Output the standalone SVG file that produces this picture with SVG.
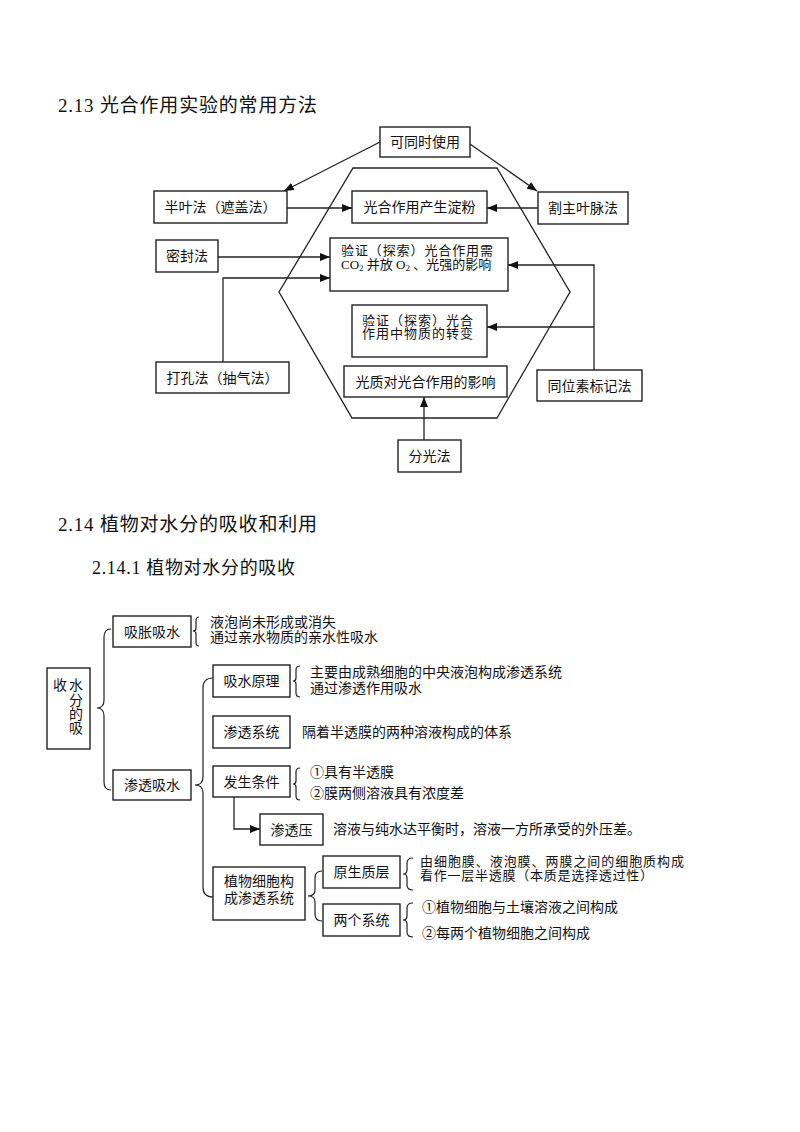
<svg xmlns="http://www.w3.org/2000/svg" width="800" height="1132" viewBox="0 0 800 1132">
<style>
  text { font-family: "Liberation Serif", "Noto Sans CJK SC", serif; fill: #111; }
  .t { font-size: 14px; }
  .s { font-size: 13px; }
  .c { text-anchor: middle; }
  .h1 { font-size: 19px; }
  .h2 { font-size: 18px; }
  .box { fill: #fff; stroke: #222; stroke-width: 1.4; }
  .ln { fill: none; stroke: #222; stroke-width: 1.3; }
  .br { fill: none; stroke: #222; stroke-width: 1.2; }
</style>
<defs>
  <marker id="ah" viewBox="0 0 10 8" refX="10" refY="4" markerWidth="10" markerHeight="8" markerUnits="userSpaceOnUse" orient="auto">
    <path d="M0,0 L10,4 L0,8 Z" fill="#111"/>
  </marker>
</defs>
<rect width="800" height="1132" fill="#fff"/>

<text class="h1" x="58" y="112" textLength="259" lengthAdjust="spacing">2.13 光合作用实验的常用方法</text>
<text class="h1" x="58" y="531" textLength="259" lengthAdjust="spacing">2.14 植物对水分的吸收和利用</text>
<text class="h2" x="92" y="574" textLength="203" lengthAdjust="spacing">2.14.1 植物对水分的吸收</text>

<!-- ===== Diagram 1 ===== -->
<g id="hexagon">
  <polygon class="ln" points="353,168 497,168 570,292 497,418 352,418 279,292"/>
</g>

<g id="connectors1">
  <line class="ln" x1="380" y1="142" x2="284" y2="191" marker-end="url(#ah)"/>
  <line class="ln" x1="470" y1="144" x2="537" y2="191" marker-end="url(#ah)"/>
  <line class="ln" x1="287" y1="208" x2="352" y2="208" marker-end="url(#ah)"/>
  <line class="ln" x1="538" y1="208" x2="487" y2="208" marker-end="url(#ah)"/>
  <line class="ln" x1="218" y1="257" x2="330" y2="257" marker-end="url(#ah)"/>
  <polyline class="ln" points="223,362 223,278 330,278" marker-end="url(#ah)"/>
  <polyline class="ln" points="594,370 594,265 508,265" marker-end="url(#ah)"/>
  <line class="ln" x1="594" y1="327" x2="487" y2="327" marker-end="url(#ah)"/>
  <line class="ln" x1="424" y1="440" x2="424" y2="397" marker-end="url(#ah)"/>
</g>

<g id="n-ketongshi">
  <rect class="box" x="380" y="127" width="90" height="30"/>
  <text class="t c" x="425" y="147">可同时使用</text>
</g>
<g id="n-banye">
  <rect class="box" x="154" y="191" width="133" height="32"/>
  <text class="t c" x="220.5" y="212">半叶法（遮盖法）</text>
</g>
<g id="n-dianfen">
  <rect class="box" x="352" y="191" width="135" height="32"/>
  <text class="t c" x="419.5" y="212">光合作用产生淀粉</text>
</g>
<g id="n-gezhu">
  <rect class="box" x="538" y="192" width="90" height="32"/>
  <text class="t c" x="583" y="213">割主叶脉法</text>
</g>
<g id="n-mifeng">
  <rect class="box" x="156" y="240" width="62" height="32"/>
  <text class="t c" x="187" y="261">密封法</text>
</g>
<g id="n-yanzheng1">
  <rect class="box" x="330" y="238" width="178" height="53"/>
  <text class="s" x="341" y="254.5" textLength="152" lengthAdjust="spacing">验证（探索）光合作用需</text>
  <text class="s" x="341" y="268.5">CO<tspan font-size="9" dy="2">2</tspan><tspan dy="-2"> 并放 O</tspan><tspan font-size="9" dy="2">2</tspan><tspan dy="-2"> 、光强的影响</tspan></text>
</g>
<g id="n-dakong">
  <rect class="box" x="156" y="362" width="133" height="31"/>
  <text class="t c" x="222.5" y="382.5">打孔法（抽气法）</text>
</g>
<g id="n-yanzheng2">
  <rect class="box" x="352" y="305" width="135" height="52"/>
  <text class="s" x="362" y="324.5" textLength="111" lengthAdjust="spacing">验证（探索）光合</text>
  <text class="s" x="362" y="338" textLength="111" lengthAdjust="spacing">作用中物质的转变</text>
</g>
<g id="n-guangzhi">
  <rect class="box" x="344" y="366" width="163" height="31"/>
  <text class="t c" x="425.5" y="386.5">光质对光合作用的影响</text>
</g>
<g id="n-tongwei">
  <rect class="box" x="537" y="370" width="105" height="31"/>
  <text class="t c" x="589.5" y="390.5">同位素标记法</text>
</g>
<g id="n-fenguang">
  <rect class="box" x="398" y="440" width="63" height="32"/>
  <text class="t c" x="429.5" y="461">分光法</text>
</g>

<!-- ===== Diagram 2 ===== -->
<g id="connectors2">
  <path class="br" d="M111,629 Q104,629 104,637 L104,700 Q104,708 97,708 Q104,708 104,716 L104,782 Q104,790 111,790"/>
  <path class="br" d="M199,617 Q196,617 196,621 L196,628 Q196,631 193,631 Q196,631 196,634 L196,642 Q196,646 199,646"/>
  <path class="br" d="M213,678 Q203,678 203,688 L203,777 Q203,785 195,785 Q203,785 203,793 L203,887 Q203,897 213,897"/>
  <path class="br" d="M300,666 Q296,666 296,670 L296,678 Q296,681 293,681 Q296,681 296,684 L296,693 Q296,697 300,697"/>
  <path class="br" d="M300,768 Q296,768 296,772 L296,781 Q296,784 293,784 Q296,784 296,787 L296,796 Q296,800 300,800"/>
  <polyline class="ln" points="234,797 234,829 260,829" marker-end="url(#ah)"/>
  <path class="br" d="M322,871 Q315,871 315,878 L315,890 Q315,896 308,896 Q315,896 315,902 L315,914 Q315,921 322,921"/>
  <path class="br" d="M413,858 Q407,858 407,863 L407,870 Q407,874 403,874 Q407,874 407,878 L407,885 Q407,890 413,890"/>
  <path class="br" d="M413,903 Q407,903 407,908 L407,916 Q407,920 403,920 Q407,920 407,924 L407,932 Q407,937 413,937"/>
</g>

<g id="n-shoushui">
  <rect class="box" x="47" y="668" width="43" height="81"/>
  <text class="t c" x="60" y="690">收</text>
  <text class="t c" x="76" y="690">水</text>
  <text class="t c" x="76" y="705">分</text>
  <text class="t c" x="76" y="719">的</text>
  <text class="t c" x="76" y="733">吸</text>
</g>
<g id="n-xizhang">
  <rect class="box" x="113" y="616" width="78" height="31"/>
  <text class="t c" x="152" y="636.5">吸胀吸水</text>
  <text class="t" x="210" y="626.5">液泡尚未形成或消失</text>
  <text class="t" x="210" y="641.5">通过亲水物质的亲水性吸水</text>
</g>
<g id="n-shentouxishui">
  <rect class="box" x="113" y="770" width="78" height="30"/>
  <text class="t c" x="152" y="790">渗透吸水</text>
</g>
<g id="n-yuanli">
  <rect class="box" x="213" y="665" width="77" height="32"/>
  <text class="t c" x="251.5" y="686">吸水原理</text>
  <text class="t" x="310" y="677">主要由成熟细胞的中央液泡构成渗透系统</text>
  <text class="t" x="310" y="693">通过渗透作用吸水</text>
</g>
<g id="n-xitong">
  <rect class="box" x="213" y="716" width="77" height="32"/>
  <text class="t c" x="251.5" y="737">渗透系统</text>
  <text class="t" x="302" y="737">隔着半透膜的两种溶液构成的体系</text>
</g>
<g id="n-tiaojian">
  <rect class="box" x="213" y="766" width="77" height="31"/>
  <text class="t c" x="251.5" y="786.5">发生条件</text>
  <text class="t" x="310" y="777">①具有半透膜</text>
  <text class="t" x="310" y="798">②膜两侧溶液具有浓度差</text>
</g>
<g id="n-shentouya">
  <rect class="box" x="260" y="814" width="63" height="31"/>
  <text class="t c" x="291.5" y="834.5">渗透压</text>
  <text class="t" x="333" y="834">溶液与纯水达平衡时，溶液一方所承受的外压差。</text>
</g>
<g id="n-zhiwu">
  <rect class="box" x="213" y="867" width="92" height="53"/>
  <text class="t c" x="259" y="886">植物细胞构</text>
  <text class="t c" x="259" y="903">成渗透系统</text>
</g>
<g id="n-yuanshengzhi">
  <rect class="box" x="323" y="856" width="77" height="32"/>
  <text class="t c" x="361.5" y="877">原生质层</text>
  <text class="s" x="420" y="865.5" textLength="264" lengthAdjust="spacing">由细胞膜、液泡膜、两膜之间的细胞质构成</text>
  <text class="s" x="420" y="879.5" textLength="233" lengthAdjust="spacing">看作一层半透膜（本质是选择透过性）</text>
</g>
<g id="n-liangge">
  <rect class="box" x="323" y="904" width="77" height="32"/>
  <text class="t c" x="361.5" y="925">两个系统</text>
  <text class="t" x="422" y="912">①植物细胞与土壤溶液之间构成</text>
  <text class="t" x="422" y="938">②每两个植物细胞之间构成</text>
</g>
</svg>
